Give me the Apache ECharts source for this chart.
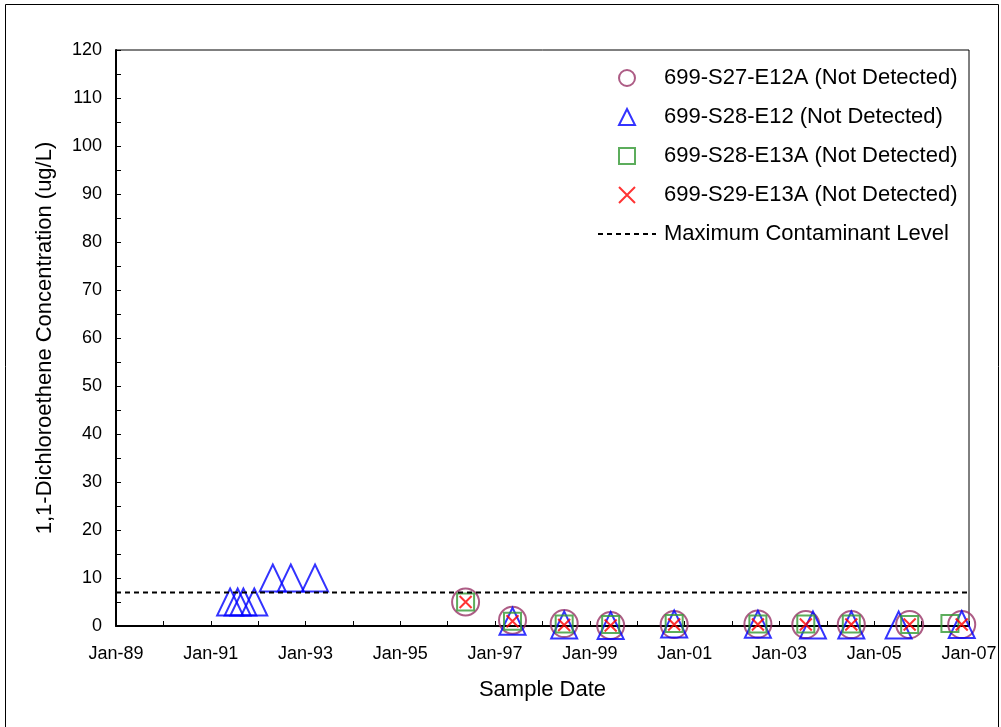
<!DOCTYPE html>
<html>
<head>
<meta charset="utf-8">
<script src="https://cdn.jsdelivr.net/npm/echarts@6/dist/echarts.min.js"></script>
<style>
  html, body { margin: 0; padding: 0; background: #fff; }
  #main { width: 1001px; height: 727px; }
</style>
</head>
<body>
<div id="main"></div>
<script>
// sample dates + concentrations (ug/L)
const s27Dates = ['1996-05-18', '1997-05-15', '1998-06-17', '1999-06-10', '2000-10-12', '2002-07-19', '2003-07-23', '2004-07-08', '2005-10-01', '2006-11-06']
const s27Values = [5, 1.2, 0.5, 0.1, 0.3, 0.4, 0.3, 0.3, 0.3, 0.3]

const s28Dates = ['1991-05-30', '1991-07-27', '1991-09-09', '1991-12-02', '1992-04-23', '1992-09-09', '1993-03-15',
  '1997-05-15', '1998-06-17', '1999-06-10', '2000-10-12', '2002-07-19', '2003-09-16', '2004-07-08', '2005-07-08', '2006-11-06']
const s28Values = [5, 5, 5, 5, 10, 10, 10, 1, 0.2, 0.1, 0.4, 0.35, 0.2, 0.2, 0.2, 0.3]

const s28aDates = ['1996-05-18', '1997-05-15', '1998-06-17', '1999-06-10', '2000-10-12', '2002-07-19', '2003-07-23', '2004-07-08', '2005-10-01', '2006-08-07']
const s28aValues = [5, 1, 0.4, 0.3, 0.5, 0.4, 0.4, 0.4, 0.3, 0.5]

const s29Dates = ['1996-05-18', '1997-05-15', '1998-06-17', '1999-06-10', '2000-10-12', '2002-07-19', '2003-07-23', '2004-07-08', '2005-10-01', '2006-11-06']
const s29Values = [5, 1, 0.2, 0.1, 0.3, 0.3, 0.3, 0.3, 0.3, 0.3]

const mclYears = [1989, 2007]
const mclValues = [7, 7]

const seriesNames = [
  '699-S27-E12A (Not Detected)',
  '699-S28-E12 (Not Detected)',
  '699-S28-E13A (Not Detected)',
  '699-S29-E13A (Not Detected)',
  'Maximum Contaminant Level'
]

const FONT = 'Liberation Sans, Arial, sans-serif'

// date string -> decimal year
function toYear(s) {
  let d = Date.parse(s + 'T00:00:00Z')
  let y = new Date(d).getUTCFullYear()
  let a = Date.UTC(y, 0, 1), b = Date.UTC(y + 1, 0, 1)
  return y + (d - a) / (b - a)
}
function pairs(dates, vals) {
  return dates.map((d, i) => [toYear(d), vals[i]])
}

let myChart = echarts.init(document.getElementById('main'))
let option = {
  backgroundColor: '#fff',
  animation: false,
  textStyle: { fontFamily: FONT },
  graphic: [{
    type: 'rect',
    silent: true,
    shape: { x: 5.5, y: 4.5, width: 993, height: 740 },
    style: { fill: 'none', stroke: '#000', lineWidth: 1 }
  }],
  grid: { left: 116, top: 50, right: 32, bottom: 101, show: true, borderColor: '#000', borderWidth: 1 },
  legend: {
    orient: 'vertical',
    left: 592,
    top: 62,
    padding: 5,
    itemWidth: 58,
    itemHeight: 16,
    itemGap: 17,
    selectedMode: false,
    data: [
      { name: seriesNames[0] },
      { name: seriesNames[1], icon: 'path://M5,0L10,10L0,10Z' },
      { name: seriesNames[2], icon: 'path://M0,0L10,0L10,10L0,10Z' },
      { name: seriesNames[3], icon: 'path://M2,2L8,8M2,8L8,2' },
      { name: seriesNames[4], itemStyle: { opacity: 0 } }
    ],
    textStyle: { fontFamily: FONT, fontSize: 22, color: '#000', padding: [0, 0, 0, 3] }
  },
  xAxis: {
    type: 'value',
    min: 1989,
    max: 2007,
    interval: 1,
    name: 'Sample Date',
    nameLocation: 'middle',
    nameGap: 53,
    nameTextStyle: { fontFamily: FONT, fontSize: 22, color: '#000' },
    axisLine: { onZero: false, lineStyle: { color: '#000', width: 2 } },
    axisTick: { inside: true, length: 5, lineStyle: { color: '#000', width: 1 } },
    axisLabel: {
      fontFamily: FONT, fontSize: 18, color: '#000', margin: 19,
      formatter: v => (Math.round(v) % 2 === 1 ? 'Jan-' + String(Math.round(v)).slice(2) : '')
    },
    splitLine: { show: false }
  },
  yAxis: {
    type: 'value',
    min: 0,
    max: 120,
    interval: 10,
    name: '1,1-Dichloroethene Concentration (ug/L)',
    nameLocation: 'middle',
    nameGap: 60,
    nameTextStyle: { fontFamily: FONT, fontSize: 22, color: '#000' },
    axisLine: { lineStyle: { color: '#000', width: 2 } },
    axisTick: { inside: true, length: 5, lineStyle: { color: '#000', width: 1 } },
    minorTick: { show: true, splitNumber: 2, length: 5, lineStyle: { color: '#000', width: 1 } },
    axisLabel: { fontFamily: FONT, fontSize: 18, color: '#000', margin: 14 },
    splitLine: { show: false }
  },
  series: [
    {
      name: seriesNames[4],
      type: 'line',
      symbol: 'none',
      showSymbol: false,
      data: mclYears.map((y, i) => [y, mclValues[i]]),
      lineStyle: { color: '#000', width: 2, type: [5, 4] },
      itemStyle: { color: '#000' }
    },
    {
      name: seriesNames[0],
      type: 'scatter',
      symbol: 'circle',
      symbolSize: 27,
      data: pairs(s27Dates, s27Values),
      itemStyle: { color: 'none', borderColor: '#993366', borderWidth: 2 }
    },
    {
      name: seriesNames[1],
      type: 'scatter',
      symbol: 'triangle',
      symbolSize: [26, 27],
      data: pairs(s28Dates, s28Values),
      itemStyle: { color: 'none', borderColor: '#0000ff', borderWidth: 2 }
    },
    {
      name: seriesNames[2],
      type: 'scatter',
      symbol: 'rect',
      symbolSize: 17,
      data: pairs(s28aDates, s28aValues),
      itemStyle: { color: 'none', borderColor: '#339933', borderWidth: 2 }
    },
    {
      name: seriesNames[3],
      type: 'scatter',
      symbol: 'path://M0,0L10,10M0,10L10,0',
      symbolSize: 12,
      data: pairs(s29Dates, s29Values),
      itemStyle: { color: 'none', borderColor: '#ff0000', borderWidth: 2 }
    }
  ]
}
myChart.setOption(option)
</script>
</body>
</html>
